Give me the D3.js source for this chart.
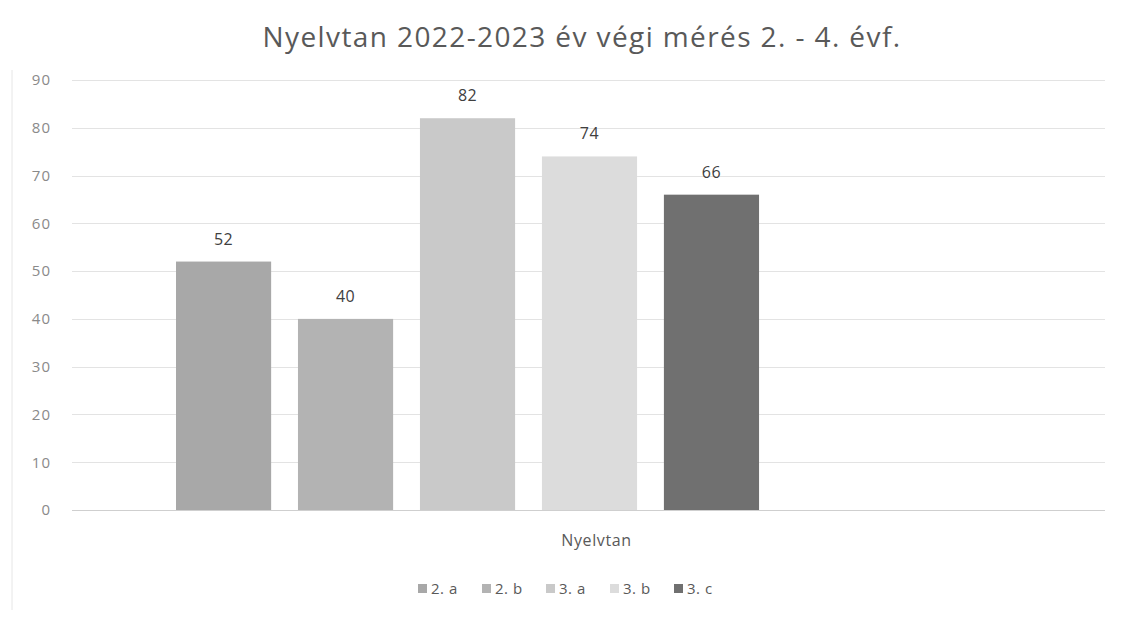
<!DOCTYPE html>
<html>
<head>
<meta charset="utf-8">
<script src="https://cdn.jsdelivr.net/npm/d3@7"></script>
<style>
  body { margin: 0; background: #fff; }
  svg { display: block; font-family: "Open Sans", "Liberation Sans", sans-serif; }
</style>
</head>
<body>
<svg id="chart" width="1128" height="620"></svg>
<script>
const title = "Nyelvtan 2022-2023 év végi mérés 2. - 4. évf.";
const category = "Nyelvtan";
const series = ["2. a", "2. b", "3. a", "3. b", "3. c"];
const values = [52, 40, 82, 74, 66];
const slots = ["2. a", "2. b", "3. a", "3. b", "3. c", "4. a", "4. b"];
const colors = ["#a8a8a8", "#b3b3b3", "#c9c9c9", "#dcdcdc", "#707070"];
const yTicks = [0, 10, 20, 30, 40, 50, 60, 70, 80, 90];

const svg = d3.select("#chart");
const plot = { left: 72, right: 1105, top: 80, bottom: 510 };

const y = d3.scaleLinear().domain([0, 90]).range([plot.bottom, plot.top]);
const x = d3.scaleBand().domain(slots).range([176, 1003]).paddingInner(0.22).paddingOuter(0);

// frame line on left
svg.append("line").attr("x1", 12).attr("x2", 12).attr("y1", 70).attr("y2", 610)
  .attr("stroke", "#e6e6e6").attr("stroke-width", 1);

// gridlines
svg.append("g").selectAll("line").data(yTicks).join("line")
  .attr("x1", plot.left).attr("x2", plot.right)
  .attr("y1", d => Math.round(y(d)) + 0.5).attr("y2", d => Math.round(y(d)) + 0.5)
  .attr("stroke", d => d === 0 ? "#cfcfcf" : "#e3e3e3").attr("stroke-width", 1);

// y axis labels
const yAxis = d3.axisLeft(y).tickValues(yTicks).tickSize(0).tickPadding(0);
const yg = svg.append("g").attr("transform", `translate(51,0)`).call(yAxis);
yg.select(".domain").remove();
yg.selectAll("text").attr("fill", "#8a8a8a").style("font-size", "15px")
  .style("letter-spacing", "1px")
  .style("font-family", "'Open Sans', sans-serif");

// bars
const data = series.map((s, i) => ({ s, v: values[i], c: colors[i] }));
svg.append("g").selectAll("rect").data(data).join("rect")
  .attr("x", d => x(d.s)).attr("width", x.bandwidth())
  .attr("y", d => y(d.v)).attr("height", d => y(0) - y(d.v))
  .attr("fill", d => d.c);

// value labels
svg.append("g").selectAll("text").data(data).join("text")
  .attr("x", d => x(d.s) + x.bandwidth() / 2).attr("y", d => y(d.v) - 17)
  .attr("text-anchor", "middle").attr("fill", "#404040").style("font-size", "16px")
  .style("letter-spacing", "0.5px")
  .text(d => d.v);

// category label
svg.append("text").attr("x", (x.range()[0] + x.range()[1]) / 2 + 7).attr("y", 546)
  .attr("text-anchor", "middle").attr("fill", "#595959").style("font-size", "16px")
  .style("letter-spacing", "0.6px")
  .text(category);

// title
svg.append("text").attr("x", 582).attr("y", 47).attr("text-anchor", "middle")
  .attr("fill", "#595959").style("font-size", "28px").style("letter-spacing", "1.4px").text(title);

// legend
const legend = svg.append("g");
const itemW = 64;
const lx0 = 578 - (series.length * itemW) / 2;
const items = legend.selectAll("g").data(data).join("g")
  .attr("transform", (d, i) => `translate(${lx0 + i * itemW},590)`);
items.append("rect").attr("x", 0).attr("y", -6).attr("width", 9).attr("height", 9).attr("fill", d => d.c);
items.append("text").attr("x", 13).attr("y", 4).attr("fill", "#595959").style("font-size", "15px")
  .style("letter-spacing", "0.5px").text(d => d.s);
</script>
</body>
</html>
